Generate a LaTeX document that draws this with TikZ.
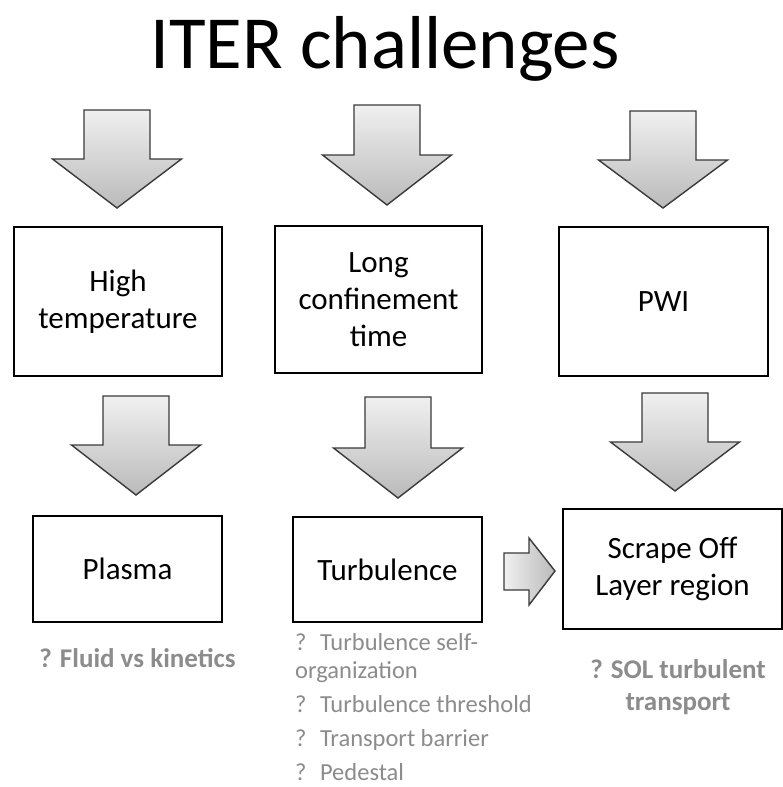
\documentclass[tikz,border=0pt]{standalone}
\usepackage{fontspec}
\setmainfont{Carlito}
\definecolor{arrline}{RGB}{58,58,58}
\definecolor{arrtop}{RGB}{240,240,240}
\definecolor{arrbot}{RGB}{186,186,186}
\definecolor{qgray}{RGB}{140,140,140}
\newcommand\dnarr[4]{%
  \path[blk] (#1-33,#2) -- (#1+33,#2) -- (#1+33,#3) -- (#1+64.5,#3) -- (#1,#4)
    -- (#1-64.5,#3) -- (#1-33,#3) -- cycle;}
\begin{document}
\begin{tikzpicture}[x=1pt,y=-1pt,
  box/.style={draw=black, line width=2pt, fill=white, inner sep=0pt, align=center,
    font=\fontsize{31}{37}\selectfont},
  blk/.style={draw=arrline, line width=1.4pt, line join=miter, top color=arrtop, bottom color=arrbot},
  blkh/.style={draw=arrline, line width=1.4pt, line join=miter, left color=arrtop, right color=arrbot},
  qtext/.style={text=qgray, inner sep=0pt, font=\fontsize{24.5}{28}\selectfont},
  qbold/.style={text=qgray, inner sep=0pt, align=center, font=\bfseries\fontsize{27}{32}\selectfont}]
\useasboundingbox (0,0) rectangle (783,787);
\fill[white] (0,0) rectangle (783,787);
% title
\node[anchor=base, inner sep=0pt, font=\fontsize{75}{80}\selectfont] (title) at (385,68) {ITER challenges};
% top arrows
\dnarr{117}{110}{159}{208}
\dnarr{387}{105}{155}{205}
\dnarr{663}{111}{160}{208}
% top boxes
\node[box, minimum width=208pt, minimum height=149pt] (ht) at (118,301.5) {High\\temperature};
\node[box, minimum width=207pt, minimum height=147pt] (lc) at (378.5,299.5) {Long\\confinement\\time};
\node[box, minimum width=209pt, minimum height=149pt] (pwi) at (663.5,301.5) {PWI};
% lower arrows
\dnarr{136}{396}{445}{495}
\dnarr{398}{397}{448}{498}
\dnarr{675}{393}{442}{491}
% bottom boxes
\node[box, minimum width=189pt, minimum height=106pt] (pl) at (127.5,569) {Plasma};
\node[box, minimum width=189pt, minimum height=105pt] (tu) at (387.5,569.5) {Turbulence};
\node[box, minimum width=219pt, minimum height=120pt] (sol) at (672.5,569) {Scrape Off\\Layer region};
% right arrow
\path[blkh] (504,553) -- (529,553) -- (529,538) -- (555,571) -- (529,605) -- (529,590) -- (504,590) -- cycle;
% question texts
\node[qbold, anchor=base] (q1) at (137.5,667) {? Fluid vs kinetics};
\node[qbold, anchor=base] (q3) at (678,678) {? SOL turbulent};
\node[qbold, anchor=base] (q3b) at (678,710) {transport};
\node[qtext, anchor=base west] (q2a) at (295,650) {?\hspace{0.25em} Turbulence self-};
\node[qtext, anchor=base west] (q2b) at (295,678) {organization};
\node[qtext, anchor=base west] (q2c) at (295,712) {?\hspace{0.25em} Turbulence threshold};
\node[qtext, anchor=base west] (q2d) at (295,746) {?\hspace{0.25em} Transport barrier};
\node[qtext, anchor=base west] (q2e) at (295,780) {?\hspace{0.25em} Pedestal};
\end{tikzpicture}
\end{document}
